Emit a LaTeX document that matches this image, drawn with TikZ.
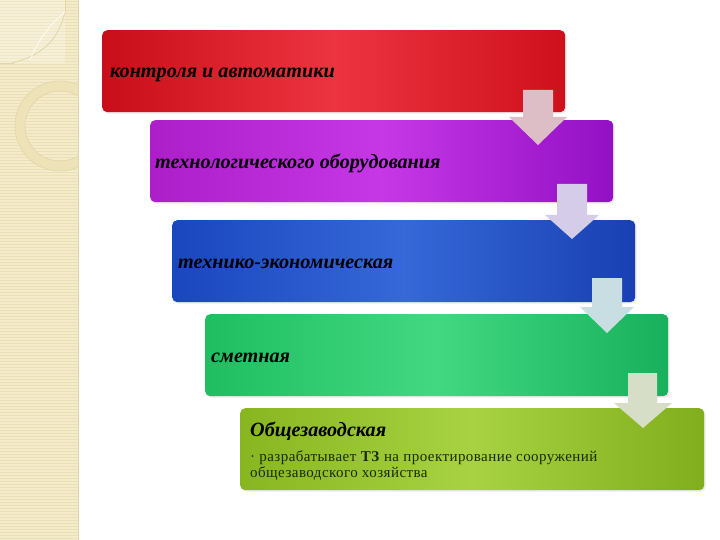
\documentclass[tikz,border=0pt]{standalone}
\usepackage{fontspec}
\setmainfont{Liberation Serif}
\usetikzlibrary{shadows}
\definecolor{beige}{HTML}{F4EBCB}
\definecolor{beigeline}{HTML}{EADFB6}
\definecolor{ringc}{HTML}{EEE2B8}
\definecolor{edgec}{HTML}{E2D5A8}
\tikzset{
  stepbox/.style={rounded corners=5pt, minimum width=463pt, minimum height=82pt,
    anchor=north west, inner sep=0pt,
    drop shadow={opacity=0.15, shadow xshift=1.5pt, shadow yshift=-1.5pt}},
  steplabel/.style={anchor=west, inner sep=0pt, align=left,
    font=\fontsize{20.2}{22}\selectfont\bfseries\itshape},
  bodytext/.style={anchor=north west, inner sep=0pt, align=left,
    font=\fontsize{15}{16}\selectfont\addfontfeature{LetterSpace=3}, text={rgb,255:red,26;green,42;blue,0}},
  flowarrow/.style={draw=none}
}
\begin{document}
\begin{tikzpicture}[x=1pt,y=-1pt]
\useasboundingbox (0,0) rectangle (720,540);
\fill[white] (0,0) rectangle (720,540);
% left decorative stripe
\fill[beige] (0,0) rectangle (78,540);
\foreach \yy in {1.5,4.5,...,540} {\draw[beigeline, line width=0.8pt] (0,\yy) -- (78,\yy);}
\draw[edgec, line width=0.6pt] (78,0) -- (78,540);
\begin{scope}
\clip (0,0) rectangle (78,540);
\fill[white, opacity=0.25] (0,0) rectangle (65,63);
\draw[edgec, line width=0.6pt] (0,63) -- (14,63);
\draw[edgec, line width=0.6pt] (65,0) -- (65,12);
\draw[edgec, line width=0.8pt] (65,12) .. controls (58,42) and (40,56) .. (12,63);
\draw[white!70!beige, line width=1pt] (30,60) .. controls (40,35) and (55,20) .. (65,12);
\fill[ringc, even odd rule] (60,126) circle (45) (60,126) circle (35);
\draw[edgec, line width=0.6pt] (60,126) circle (45);
\draw[edgec, line width=0.6pt] (60,126) circle (35);
\end{scope}
% boxes
\node[stepbox, left color={rgb,255:red,200;green,14;blue,24}, right color={rgb,255:red,206;green,16;blue,28}, middle color={rgb,255:red,236;green,52;blue,64}] (b1) at (102,30) {};
\node[stepbox, left color={rgb,255:red,172;green,30;blue,200}, right color={rgb,255:red,146;green,16;blue,196}, middle color={rgb,255:red,198;green,56;blue,230}] (b2) at (150,120) {};
\node[stepbox, left color={rgb,255:red,26;green,70;blue,190}, right color={rgb,255:red,24;green,64;blue,178}, middle color={rgb,255:red,54;green,104;blue,216}] (b3) at (172,220) {};
\node[stepbox, left color={rgb,255:red,32;green,190;blue,96}, right color={rgb,255:red,24;green,176;blue,92}, middle color={rgb,255:red,66;green,216;blue,130}] (b4) at (205,314) {};
\node[stepbox, minimum width=464pt, left color={rgb,255:red,136;green,182;blue,32}, right color={rgb,255:red,128;green,174;blue,28}, middle color={rgb,255:red,168;green,210;blue,66}] (b5) at (240,408) {};
% labels
\node[steplabel] (t1) at ([xshift=8pt, yshift=-4pt]b1.west) {контроля и автоматики};
\node[steplabel] (t2) at ([xshift=5pt, yshift=-2pt]b2.west) {технологического оборудования};
\node[steplabel] (t3) at ([xshift=6pt, yshift=-3pt]b3.west) {технико-экономическая};
\node[steplabel] (t4) at ([xshift=6pt, yshift=-3pt]b4.west) {сметная};
\node[steplabel, anchor=base west] (t5) at ([xshift=10pt, yshift=-28pt]b5.north west) {Общезаводская};
\node[bodytext, anchor=base west] (d5) at ([xshift=10pt, yshift=-69pt]b5.north west) {· разрабатывает \textbf{ТЗ} на проектирование сооружений\\общезаводского хозяйства};
% arrows
\fill[flowarrow, fill={rgb,255:red,222;green,190;blue,198}] (523,90) -- (553,90) -- (553,117) -- (567,117) -- (538,145) -- (509,117) -- (523,117) -- cycle;
\fill[flowarrow, fill={rgb,255:red,212;green,204;blue,232}] (557,184) -- (587,184) -- (587,215) -- (599,215) -- (572,239) -- (545,215) -- (557,215) -- cycle;
\fill[flowarrow, fill={rgb,255:red,200;green,222;blue,226}] (592,278) -- (622,278) -- (622,307) -- (634,307) -- (607,333) -- (580,307) -- (592,307) -- cycle;
\fill[flowarrow, fill={rgb,255:red,214;green,222;blue,200}] (628,373) -- (657,373) -- (657,403) -- (672,403) -- (643,428) -- (614,403) -- (628,403) -- cycle;
\end{tikzpicture}
\end{document}
